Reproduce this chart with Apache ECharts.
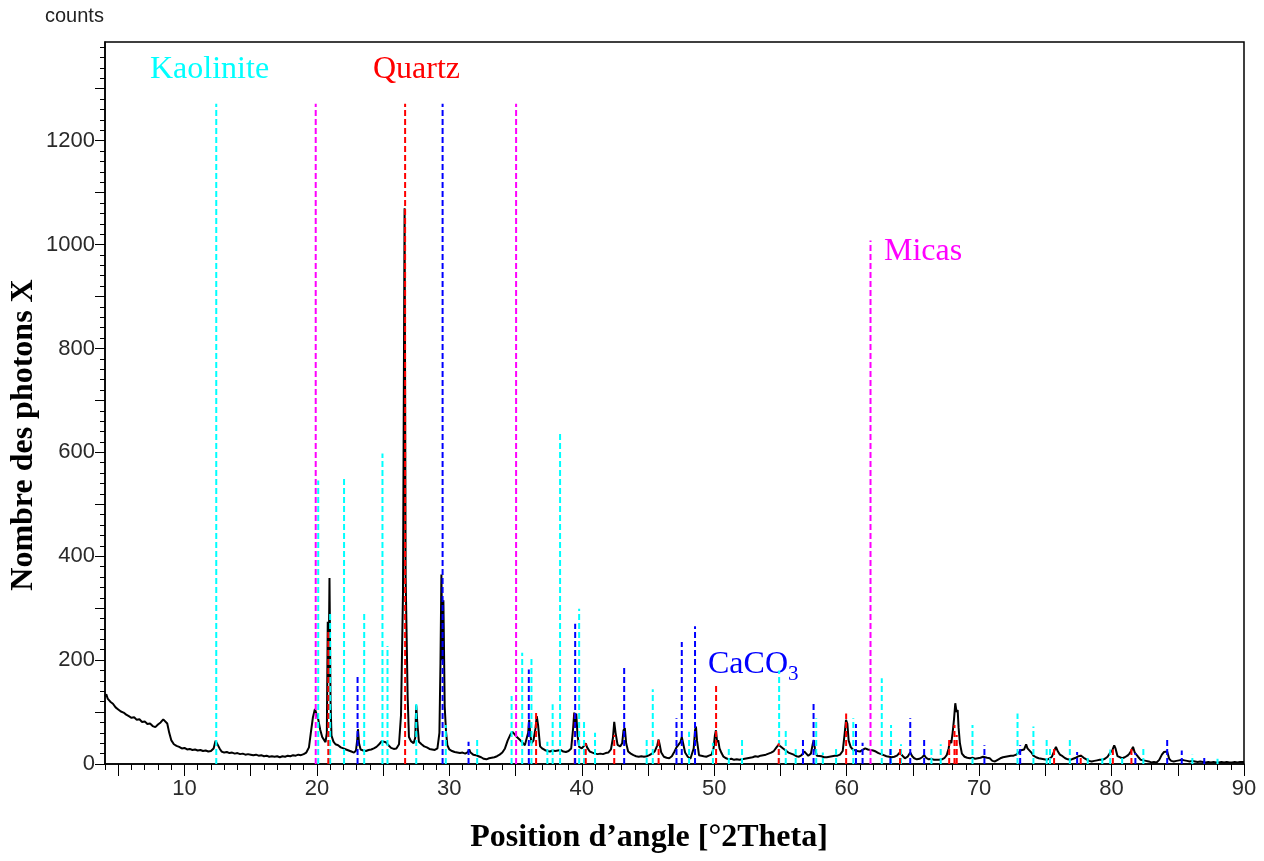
<!DOCTYPE html>
<html>
<head>
<meta charset="utf-8">
<script src="https://cdn.jsdelivr.net/npm/echarts@6/dist/echarts.min.js"></script>
<style>
  html, body { margin: 0; padding: 0; background: #fff; }
  #xrd { width: 1264px; height: 861px; }
</style>
</head>
<body>
<div id="xrd"></div>
<script>
// diffractogramme mesuré [angle 2theta, coups]
const scan = [
  [4.0,130],[4.1,134],[4.2,126],[4.4,120],[4.6,116],[4.8,109],[5.0,105],[5.2,101],[5.4,99],[5.6,95],
  [5.8,92],[6.0,89],[6.2,90],[6.4,85],[6.6,86],[6.8,81],[7.0,82],[7.2,77],[7.4,78],[7.6,73],
  [7.8,71],[8.0,76],[8.2,80],[8.4,86],[8.55,87],[8.7,78],[8.85,60],[9.0,46],[9.2,38],[9.4,35],
  [9.6,33],[9.8,30],[10.0,31],[10.2,28],[10.4,29],[10.6,27],[10.8,28],[11.0,26],[11.2,27],[11.4,25],
  [11.6,26],[11.8,24],[12.0,25],[12.2,30],[12.35,45],[12.5,42],[12.65,30],[12.8,24],[13.0,22],[13.2,23],
  [13.4,21],[13.6,22],[13.8,20],[14.0,21],[14.2,19],[14.4,20],[14.6,18],[14.8,19],[15.0,18],[15.2,17],
  [15.4,18],[15.6,16],[15.8,17],[16.0,15],[16.2,16],[16.4,14],[16.6,15],[16.8,14],[17.0,15],[17.2,13],
  [17.4,15],[17.6,14],[17.8,16],[18.0,15],[18.2,17],[18.4,16],[18.6,18],[18.8,17],[19.0,19],[19.2,22],
  [19.4,32],[19.55,62],[19.7,90],[19.85,106],[19.95,98],[20.1,86],[20.25,66],[20.4,52],[20.55,46],[20.65,42],
  [20.75,60],[20.82,274],[20.88,160],[20.95,358],[21.03,120],[21.1,55],[21.25,43],[21.4,38],[21.6,36],[21.8,32],
  [22.0,30],[22.2,28],[22.4,26],[22.6,24],[22.8,22],[22.95,26],[23.05,48],[23.1,67],[23.18,40],[23.3,28],
  [23.5,26],[23.7,25],[23.9,27],[24.1,28],[24.3,30],[24.5,33],[24.7,38],[24.9,44],[25.05,46],[25.2,42],
  [25.4,36],[25.6,31],[25.8,29],[26.0,30],[26.2,38],[26.35,94],[26.5,328],[26.62,1070],[26.7,360],[26.78,363],
  [26.85,130],[26.95,52],[27.1,44],[27.3,40],[27.42,50],[27.5,113],[27.58,80],[27.7,43],[27.9,38],[28.1,34],
  [28.3,32],[28.5,29],[28.7,28],[28.9,27],[29.1,30],[29.25,60],[29.33,194],[29.4,365],[29.48,200],[29.55,315],
  [29.65,110],[29.75,62],[29.85,36],[30.0,28],[30.2,25],[30.4,23],[30.6,22],[30.8,21],[31.0,22],[31.2,20],
  [31.4,23],[31.5,28],[31.6,22],[31.8,18],[32.0,17],[32.2,15],[32.4,13],[32.6,10],[32.8,9],[33.0,11],
  [33.2,12],[33.4,13],[33.6,15],[33.8,18],[34.0,22],[34.2,30],[34.4,45],[34.6,56],[34.75,62],[34.9,58],
  [35.1,52],[35.3,47],[35.5,42],[35.7,36],[35.85,34],[35.95,60],[36.03,85],[36.1,60],[36.2,40],[36.35,45],
  [36.5,68],[36.6,92],[36.7,75],[36.85,34],[37.0,30],[37.2,27],[37.4,25],[37.6,24],[37.8,26],[38.0,25],
  [38.2,26],[38.4,27],[38.6,24],[38.8,23],[39.0,25],[39.2,30],[39.35,70],[39.43,99],[39.5,80],[39.58,97],
  [39.68,55],[39.8,33],[40.0,30],[40.2,36],[40.3,40],[40.4,32],[40.6,24],[40.8,22],[41.0,20],[41.2,19],
  [41.4,20],[41.6,19],[41.8,21],[42.0,22],[42.2,28],[42.35,50],[42.45,81],[42.55,60],[42.7,37],[42.9,34],
  [43.05,40],[43.15,65],[43.25,69],[43.35,40],[43.5,24],[43.7,20],[43.9,17],[44.1,15],[44.3,14],[44.5,15],
  [44.7,14],[44.9,15],[45.1,17],[45.3,20],[45.5,24],[45.7,36],[45.8,47],[45.9,35],[46.0,22],[46.2,14],
  [46.4,12],[46.6,11],[46.8,15],[47.0,24],[47.15,32],[47.3,30],[47.45,42],[47.55,52],[47.65,40],[47.8,22],
  [48.0,14],[48.2,10],[48.35,12],[48.45,30],[48.55,65],[48.62,72],[48.7,45],[48.85,17],[49.0,14],[49.2,15],
  [49.4,14],[49.6,16],[49.8,18],[49.95,30],[50.05,55],[50.13,65],[50.22,42],[50.3,46],[50.4,30],[50.55,21],
  [50.7,14],[50.9,11],[51.1,9],[51.3,10],[51.5,8],[51.7,9],[51.9,8],[52.1,9],[52.3,10],[52.5,11],
  [52.7,12],[52.9,13],[53.1,15],[53.3,14],[53.5,16],[53.7,17],[53.9,18],[54.1,20],[54.3,22],[54.5,25],
  [54.7,32],[54.85,37],[55.0,35],[55.2,30],[55.4,26],[55.6,22],[55.8,20],[56.0,18],[56.2,15],[56.4,14],
  [56.6,17],[56.8,24],[56.95,20],[57.1,16],[57.3,20],[57.45,40],[57.52,46],[57.6,30],[57.75,16],[57.9,14],
  [58.1,15],[58.3,13],[58.5,13],[58.7,14],[58.9,15],[59.1,16],[59.3,16],[59.5,18],[59.7,25],[59.85,59],
  [59.95,85],[60.05,78],[60.15,45],[60.3,33],[60.45,28],[60.6,27],[60.8,25],[61.0,24],[61.2,27],[61.4,30],
  [61.6,28],[61.8,27],[62.0,26],[62.2,24],[62.4,21],[62.6,19],[62.8,17],[63.0,15],[63.2,14],[63.4,13],
  [63.6,14],[63.8,16],[64.0,22],[64.1,24],[64.25,15],[64.4,11],[64.6,14],[64.8,22],[64.95,15],[65.1,11],
  [65.3,9],[65.5,10],[65.7,13],[65.85,17],[66.0,12],[66.2,9],[66.4,10],[66.6,8],[66.8,8],[67.0,8],
  [67.2,9],[67.4,12],[67.55,17],[67.7,30],[67.8,46],[67.9,40],[68.0,60],[68.1,85],[68.2,117],[68.3,100],
  [68.38,104],[68.45,70],[68.55,40],[68.7,20],[68.9,14],[69.1,12],[69.3,11],[69.5,12],[69.7,10],[69.9,11],
  [70.1,12],[70.3,14],[70.45,16],[70.6,12],[70.8,11],[71.0,6],[71.2,5],[71.4,8],[71.6,11],[71.8,13],
  [72.0,14],[72.2,15],[72.4,16],[72.6,16],[72.8,18],[73.0,22],[73.1,26],[73.25,24],[73.4,28],[73.55,38],
  [73.65,30],[73.8,32],[73.95,22],[74.1,16],[74.3,13],[74.5,11],[74.7,10],[74.9,9],[75.1,8],[75.3,10],
  [75.5,14],[75.65,24],[75.8,33],[75.95,24],[76.1,18],[76.3,15],[76.5,11],[76.7,9],[76.9,8],[77.1,10],
  [77.3,12],[77.5,15],[77.7,16],[77.9,12],[78.1,9],[78.3,6],[78.5,5],[78.7,6],[78.9,7],[79.1,8],
  [79.3,8],[79.5,10],[79.7,14],[79.9,22],[80.05,26],[80.2,36],[80.3,30],[80.45,15],[80.6,12],[80.8,11],
  [81.0,13],[81.2,16],[81.35,20],[81.5,26],[81.62,33],[81.75,22],[81.88,25],[82.0,14],[82.2,8],[82.4,7],
  [82.6,6],[82.8,5],[83.0,3],[83.2,4],[83.4,3],[83.6,8],[83.8,18],[83.95,23],[84.1,26],[84.2,24],
  [84.35,10],[84.5,6],[84.7,5],[84.9,6],[85.1,7],[85.3,8],[85.5,7],[85.7,6],[85.9,5],[86.1,6],
  [86.3,5],[86.5,4],[86.7,5],[86.9,4],[87.1,3],[87.3,4],[87.5,3],[87.7,4],[87.9,3],[88.1,3],
  [88.3,4],[88.5,3],[88.7,4],[88.9,3],[89.1,3],[89.3,4],[89.5,3],[89.7,4],[90.0,4]
]

// raies de référence [position, hauteur]
const kaolinite = [
  [12.4,1271],[20.1,546],[21.0,293],[22.05,554],[23.57,294],[24.95,598],[25.33,227],[27.5,120],[29.73,75],
  [32.1,48],[34.7,131],[35.5,214],[36.2,206],[37.4,43],[37.8,115],[38.36,636],[39.8,299],[40.17,85],
  [41.0,60],[44.9,52],[45.36,144],[48.1,62],[49.9,41],[51.1,29],[52.1,46],[54.9,180],[55.4,69],
  [56.15,33],[57.7,88],[58.2,22],[59.2,33],[60.5,88],[62.65,165],[63.35,75],[64.1,38],[66.4,29],
  [67.1,38],[69.5,75],[72.9,97],[74.1,72],[75.1,46],[75.35,29],[76.85,51],[78.2,16],[79.3,12],
  [79.9,28],[80.8,15],[82.4,29],[86.1,18],[88.0,10]
]
const quartz = [
  [20.86,254],[26.66,1271],[36.55,101],[39.47,98],[40.3,40],[42.45,56],[45.8,46],[50.14,155],[54.87,40],
  [59.96,97],[64.03,29],[67.74,51],[68.14,75],[68.31,56],[75.66,29],[77.67,18],[80.1,28],[81.5,29]
]
const calcite = [
  [23.07,169],[29.49,1271],[31.45,43],[36.0,182],[39.5,270],[43.2,187],[47.15,88],[47.55,235],
  [48.55,265],[56.7,47],[57.5,119],[60.7,77],[61.2,41],[63.3,31],[64.8,88],[65.85,48],[70.4,36],
  [73.1,36],[77.4,23],[81.8,21],[84.2,46],[85.3,26],[87.0,15]
]
const micas = [[19.91,1271],[35.04,1271],[61.8,1008]]

const xLabels = [10,20,30,40,50,60,70,80,90]
const yLabels = [0,200,400,600,800,1000,1200]

const range = (a, b, s) => { const r = []; for (let v = a; v <= b + 1e-9; v += s) r.push(+v.toFixed(4)); return r }

// une raie = segment vertical de 0 à h
const sticks = (list) => {
  const d = []
  list.forEach(([x, h]) => { d.push([x, 0], [x, h], [x, '-']) })
  return d
}

const stickSeries = (name, list, color) => ({
  name, type: 'line', data: sticks(list), symbol: 'none', connectNulls: false,
  lineStyle: { color, width: 2, type: [6, 3] }, z: 3, animation: false
})

const tickFont = { fontFamily: 'Liberation Sans', fontSize: 22, color: '#2a2a2a', formatter: (v) => String(v) }
const xBase = { type: 'value', min: 4, max: 90, position: 'bottom', gridIndex: 0, splitLine: { show: false } }
const yBase = { type: 'value', min: 0, max: 1390, position: 'left', gridIndex: 0, splitLine: { show: false } }

const chart = echarts.init(document.getElementById('xrd'))
chart.setOption({
  animation: false,
  grid: { left: 105, right: 20, top: 42, bottom: 97, show: true, borderColor: '#000', borderWidth: 1.5 },
  xAxis: [
    { ...xBase,
      axisLine: { onZero: false, lineStyle: { color: '#000', width: 1.5 } },
      axisTick: { customValues: range(4, 90, 1), length: 6, lineStyle: { color: '#000' } },
      axisLabel: { customValues: xLabels, margin: 14, ...tickFont } },
    { ...xBase,
      axisLine: { show: false },
      axisTick: { customValues: range(5, 90, 5), length: 12, lineStyle: { color: '#000' } },
      axisLabel: { show: false } }
  ],
  yAxis: [
    { ...yBase,
      axisLine: { show: true, onZero: false, lineStyle: { color: '#000', width: 1.5 } },
      axisTick: { show: true, customValues: range(0, 1380, 20), length: 5, lineStyle: { color: '#000' } },
      axisLabel: { customValues: yLabels, margin: 10, ...tickFont } },
    { ...yBase,
      axisLine: { show: false },
      axisTick: { show: true, customValues: range(0, 1300, 100), length: 10, lineStyle: { color: '#000' } },
      axisLabel: { show: false } }
  ],
  series: [
    { name: 'scan', type: 'line', data: scan, symbol: 'none', z: 2,
      lineStyle: { color: '#000', width: 2 }, animation: false },
    stickSeries('Kaolinite', kaolinite, '#00ffff'),
    stickSeries('Quartz', quartz, '#ff0000'),
    stickSeries('CaCO3', calcite, '#0000ff'),
    stickSeries('Micas', micas, '#ff00ff')
  ],
  graphic: [
    { type: 'text', x: 45, y: 16, style: { text: 'counts', font: '20px "Liberation Sans"', fill: '#222', textVerticalAlign: 'middle', verticalAlign: 'middle' } },
    { type: 'text', x: 24, y: 435, rotation: Math.PI / 2,
      style: { text: 'Nombre des photons X', font: 'bold 32px "Liberation Serif"', fill: '#000', textAlign: 'center', align: 'center', textVerticalAlign: 'middle', verticalAlign: 'middle' } },
    { type: 'text', x: 649, y: 838,
      style: { text: 'Position d\u2019angle [\u00b02Theta]', font: 'bold 32px "Liberation Serif"', fill: '#000', textAlign: 'center', align: 'center', textVerticalAlign: 'middle', verticalAlign: 'middle' } },
    { type: 'text', x: 150, y: 70, style: { text: 'Kaolinite', font: '32px "Liberation Serif"', fill: '#00ffff', textVerticalAlign: 'middle', verticalAlign: 'middle' } },
    { type: 'text', x: 373, y: 70, style: { text: 'Quartz', font: '32px "Liberation Serif"', fill: '#ff0000', textVerticalAlign: 'middle', verticalAlign: 'middle' } },
    { type: 'text', x: 884, y: 252, style: { text: 'Micas', font: '32px "Liberation Serif"', fill: '#ff00ff', textVerticalAlign: 'middle', verticalAlign: 'middle' } },
    { type: 'text', x: 708, y: 665, style: { text: 'CaCO', font: '32px "Liberation Serif"', fill: '#0000ff', textVerticalAlign: 'middle', verticalAlign: 'middle' } },
    { type: 'text', x: 788, y: 674, style: { text: '3', font: '21px "Liberation Serif"', fill: '#0000ff', textVerticalAlign: 'middle', verticalAlign: 'middle' } }
  ]
})
</script>
</body>
</html>
